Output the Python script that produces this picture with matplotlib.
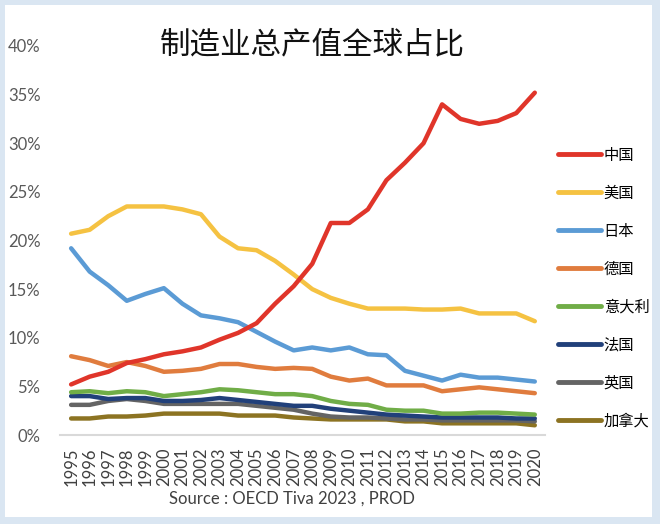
import matplotlib
matplotlib.use("Agg")
import matplotlib.pyplot as plt
from matplotlib.patches import Rectangle
from matplotlib.ticker import FuncFormatter

years = list(range(1995, 2021))
china = [5.2, 6.0, 6.5, 7.4, 7.8, 8.3, 8.6, 9.0, 9.8, 10.5, 11.5, 13.5, 15.3, 17.6, 21.8, 21.8, 23.2, 26.2, 28.0, 30.0, 34.0, 32.5, 32.0, 32.3, 33.1, 35.2]
usa = [20.7, 21.1, 22.5, 23.5, 23.5, 23.5, 23.2, 22.7, 20.4, 19.2, 19.0, 17.9, 16.5, 15.0, 14.1, 13.5, 13.0, 13.0, 13.0, 12.9, 12.9, 13.0, 12.5, 12.5, 12.5, 11.7]
japan = [19.2, 16.8, 15.4, 13.8, 14.5, 15.1, 13.5, 12.3, 12.0, 11.6, 10.6, 9.6, 8.7, 9.0, 8.7, 9.0, 8.3, 8.2, 6.6, 6.1, 5.6, 6.2, 5.9, 5.9, 5.7, 5.5]
germany = [8.1, 7.7, 7.1, 7.5, 7.1, 6.5, 6.6, 6.8, 7.3, 7.3, 7.0, 6.8, 6.9, 6.8, 6.0, 5.6, 5.8, 5.1, 5.1, 5.1, 4.5, 4.7, 4.9, 4.7, 4.5, 4.3]
italy = [4.4, 4.5, 4.3, 4.5, 4.4, 4.0, 4.2, 4.4, 4.7, 4.6, 4.4, 4.2, 4.2, 4.0, 3.5, 3.2, 3.1, 2.6, 2.5, 2.5, 2.2, 2.2, 2.3, 2.3, 2.2, 2.1]
france = [4.0, 4.0, 3.7, 3.8, 3.8, 3.5, 3.5, 3.6, 3.8, 3.6, 3.4, 3.2, 3.0, 3.0, 2.7, 2.5, 2.3, 2.1, 2.0, 1.9, 1.8, 1.8, 1.8, 1.8, 1.7, 1.7]
uk = [3.1, 3.1, 3.5, 3.7, 3.5, 3.2, 3.2, 3.2, 3.2, 3.2, 3.0, 2.8, 2.6, 2.2, 1.9, 1.8, 1.8, 1.7, 1.6, 1.6, 1.5, 1.5, 1.5, 1.5, 1.5, 1.4]
canada = [1.7, 1.7, 1.9, 1.9, 2.0, 2.2, 2.2, 2.2, 2.2, 2.0, 2.0, 2.0, 1.8, 1.7, 1.6, 1.6, 1.6, 1.6, 1.4, 1.4, 1.2, 1.2, 1.2, 1.2, 1.2, 1.0]

names = ["中国", "美国", "日本", "德国", "意大利", "法国", "英国", "加拿大"]
colors = ["#e0352a", "#f5c242", "#5b9bd5", "#e07c3e", "#70ad47", "#21407a", "#646464", "#8c7322"]
series = [china, usa, japan, germany, italy, france, uk, canada]

title = "制造业总产值全球占比"
source = "Source : OECD Tiva 2023 , PROD"

cjk = ["Noto Sans CJK SC", "DejaVu Sans"]
latin = ["Lato", "DejaVu Sans"]

fig = plt.figure(figsize=(6.6, 5.24), dpi=100)
fig.patch.set_facecolor("#dae6f2")
fig.patches.append(Rectangle((5 / 660, 7 / 524), 647 / 660, 512 / 524,
                             transform=fig.transFigure, facecolor="white",
                             edgecolor="none", zorder=-10))

ax = fig.add_axes([60 / 660, 1 - 435 / 524, 485 / 660, 389 / 524])
ax.set_zorder(5)
ax.set_facecolor("none")
x = list(range(len(years)))
lines = {}
for i in range(len(series) - 1, -1, -1):
    ln, = ax.plot(x, series[i], color=colors[i], lw=3.2, solid_capstyle="round",
                  solid_joinstyle="round", label=names[i], zorder=3 + (len(series) - i))
    lines[i] = ln

ax.set_ylim(0, 40)
ax.set_xlim(-0.6, 25.55)
ax.set_yticks([0, 5, 10, 15, 20, 25, 30, 35, 40])
ax.yaxis.set_major_formatter(FuncFormatter(lambda v, p: f"{int(v)}%"))
ax.set_xticks(x)
ax.set_xticklabels([str(y) for y in years], rotation=90, family=latin,
                   fontsize=12, color="#404040")
for lab in ax.get_yticklabels():
    lab.set_family(latin)
    lab.set_fontsize(12)
    lab.set_color("#595959")
ax.tick_params(axis="both", length=0)
ax.tick_params(axis="y", pad=14)
ax.tick_params(axis="x", pad=9)
for s in ["top", "right", "left"]:
    ax.spines[s].set_visible(False)
ax.spines["bottom"].set_color("#d9d9d9")
ax.spines["bottom"].set_linewidth(1.5)

fig.text(312 / 660, 1 - 45 / 524, title, family=cjk, fontsize=22,
         ha="center", va="center", color="#111111")
fig.text(292 / 660, 1 - 499 / 524, source, family=latin, fontsize=12,
         ha="center", va="center", color="#404040")

handles = [lines[i] for i in range(len(series))]
leg = fig.legend(handles, names, loc="upper left",
                 bbox_to_anchor=(544 / 660, 1 - 133 / 524),
                 frameon=False, prop={"family": cjk, "size": 11},
                 handlelength=2.8, handletextpad=0.2, labelspacing=1.37)
for h in leg.legend_handles:
    h.set_linewidth(3.5)

fig.savefig("out.png", dpi=100, facecolor=fig.get_facecolor())
